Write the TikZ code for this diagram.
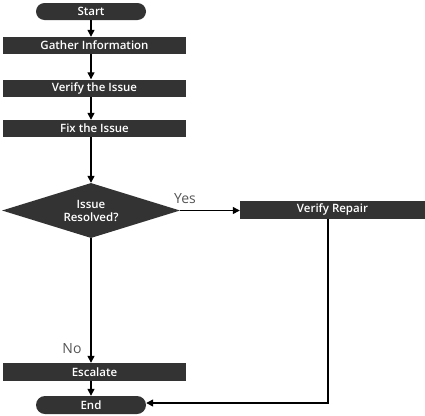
\documentclass[tikz,border=0pt]{standalone}
\usepackage{fontspec}
\setmainfont{Open Sans}[BoldFont={Open Sans Semibold}]
\usetikzlibrary{shapes.geometric,arrows.meta}
\begin{document}
\begin{tikzpicture}[x=1pt,y=-1pt,
  box/.style={fill=boxgray,text=white,font=\fontsize{11.5}{13}\selectfont\bfseries,inner sep=0pt,minimum height=17pt,minimum width=183pt},
  term/.style={box,rounded corners=8.5pt,minimum width=110pt},
  dec/.style={diamond,fill=boxgray,text=white,font=\fontsize{11.5}{13}\selectfont\bfseries,inner sep=0pt,minimum width=178pt,minimum height=55pt,aspect=3.2,align=center},
  conn/.style={draw=black,line width=1.3pt,-{Triangle[length=7pt,width=7pt]}},
  lab/.style={text=labgray,font=\fontsize{14}{16}\selectfont}]
\definecolor{boxgray}{HTML}{333333}
\definecolor{labgray}{HTML}{555555}
\useasboundingbox (0,0) rectangle (425,415);
\node[term] (start) at (91,11.5) {Start};
\node[box] (gather) at (94.5,45.5) {Gather Information};
\node[box] (verify) at (94.5,88) {Verify the Issue};
\node[box] (fix) at (94.5,128.5) {Fix the Issue};
\node[dec] (dec) at (91,210.5) {Issue\\Resolved?};
\node[box,minimum width=185pt,minimum height=18pt] (repair) at (332.5,209.5) {Verify Repair};
\node[box,minimum height=18pt] (esc) at (94.5,372) {Escalate};
\node[term,minimum height=18pt,rounded corners=9pt] (end) at (91,405) {End};
\coordinate (corner) at (328,403);
\draw[conn] (start.south) -- (gather.north -| start.south);
\draw[conn] (gather.south -| start.south) -- (verify.north -| start.south);
\draw[conn] (verify.south -| start.south) -- (fix.north -| start.south);
\draw[conn] (fix.south -| start.south) -- (dec.north);
\draw[conn] (dec.east) -- (repair.west |- dec.east);
\draw[conn] (dec.south) -- (esc.north -| dec.south);
\draw[conn] (esc.south -| end.north) -- (end.north);
\draw[conn] (repair.south -| corner) -- (corner) -- (end.east |- corner);
\node[lab] (yes) at (185,199) {Yes};
\node[lab] (no) at (72,349) {No};
\end{tikzpicture}
\end{document}
